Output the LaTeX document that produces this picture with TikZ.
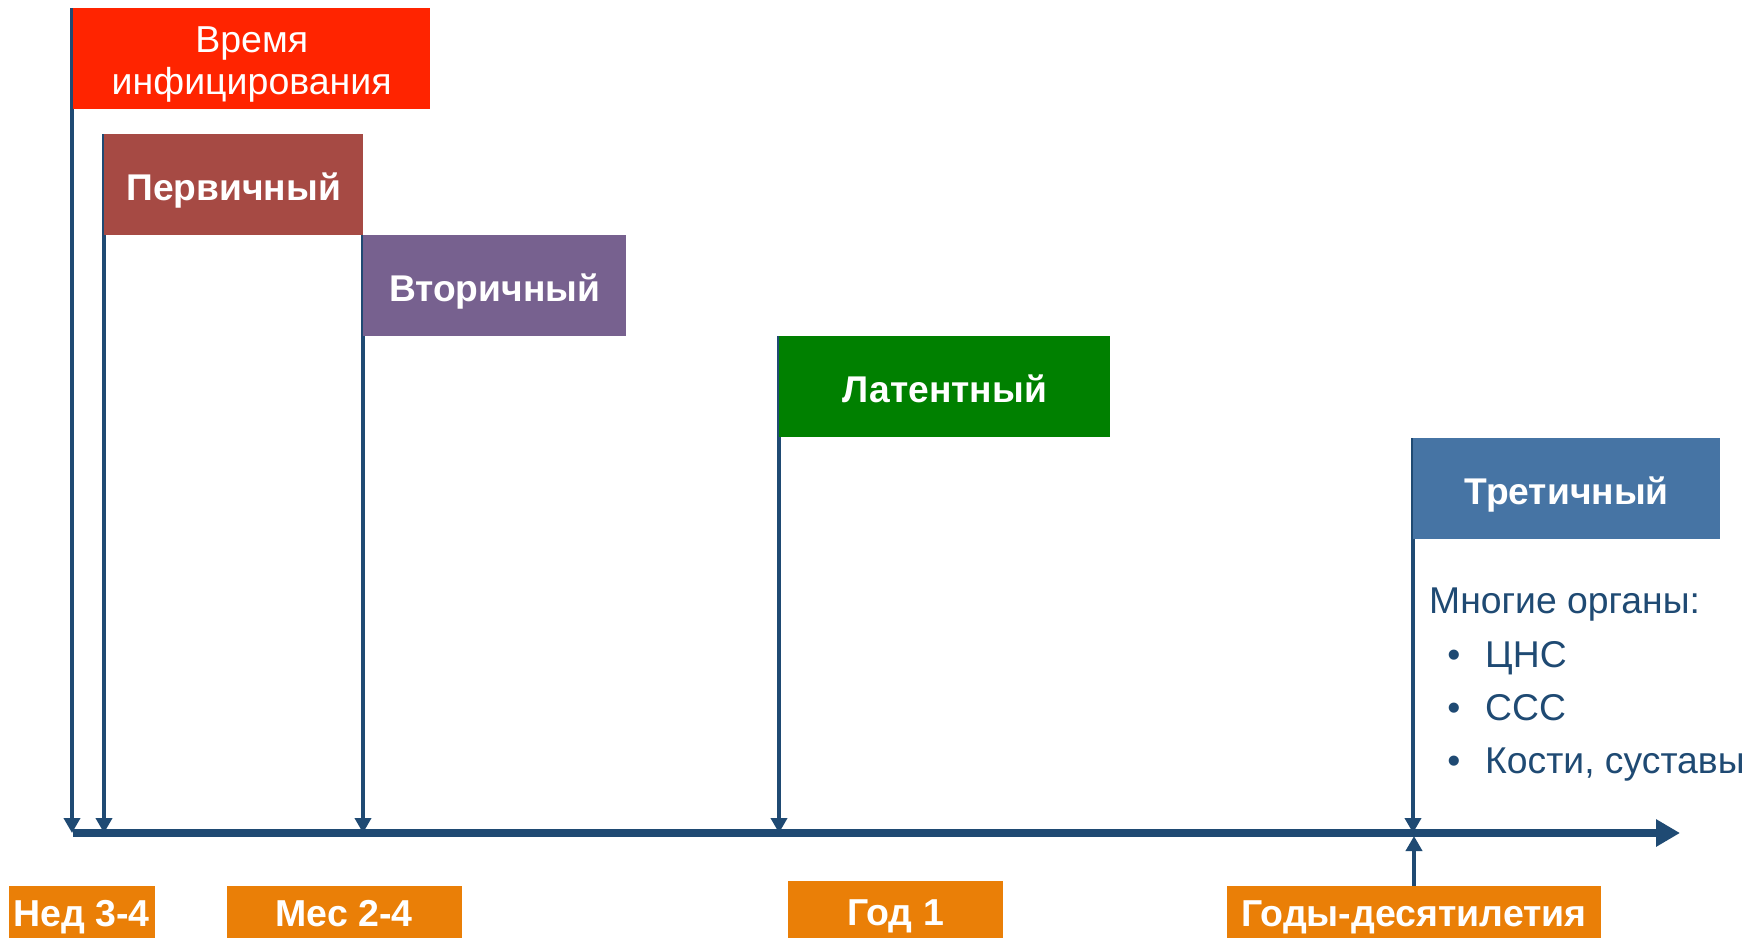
\documentclass[tikz,border=0pt]{standalone}
\usepackage{fontspec}
\setmainfont{Liberation Sans}
\usetikzlibrary{arrows.meta}
\definecolor{navy}{HTML}{1F4A73}
\definecolor{infred}{HTML}{FF2400}
\definecolor{primred}{HTML}{A64A44}
\definecolor{secpurple}{HTML}{77618F}
\definecolor{latgreen}{HTML}{008000}
\definecolor{tertblue}{HTML}{4674A4}
\definecolor{tickorange}{HTML}{EA7F07}
\begin{document}
\begin{tikzpicture}[x=1pt,y=-1pt,
  flagbox/.style={anchor=north west, inner sep=0pt, minimum height=101pt, text=white,
    font=\fontsize{37.2}{43}\selectfont\bfseries, text height=32.5pt, text depth=0pt},
  pole/.style={draw=navy, line width=4.8pt, -{Triangle[width=16pt,length=15pt]}},
  axisline/.style={draw=navy, line width=7.5pt, -{Triangle[width=26pt,length=24pt]}},
  tickbox/.style={anchor=north, inner sep=0pt, fill=tickorange, text=white,
    font=\fontsize{37.5}{43}\selectfont\bfseries, text height=27pt, text depth=0pt},
  bodytext/.style={inner sep=0pt, text=navy, font=\fontsize{37.3}{44}\selectfont}
]
\useasboundingbox (0,0) rectangle (1760,937);
\clip (0,0) rectangle (1760,937);
\fill[white] (0,0) rectangle (1760,937);

% axis
\coordinate (axL) at (73,833);
\coordinate (axR) at (1680,833);

% flag positions
\coordinate (pInf) at (72,8);
\coordinate (pPrim) at (104,134);
\coordinate (pSec) at (363,235);
\coordinate (pLat) at (779,336);
\coordinate (pTert) at (1413,438);

% poles
\draw[pole] (pInf) -- (pInf |- axL);
\draw[pole] (pPrim) -- (pPrim |- axL);
\draw[pole] (pSec) -- (pSec |- axL);
\draw[pole] (pLat) -- (pLat |- axL);
\draw[pole] (pTert) -- (pTert |- axL);

\draw[axisline] (axL) -- (axR);

% flag boxes
\node[flagbox, fill=infred, minimum width=357pt, font=\fontsize{37.5}{43}\selectfont,
  align=center, text height=, text depth=] (inf) at ([xshift=1pt]pInf)
  {\rule{0pt}{38pt}Время\\[-1pt]инфицирования};
\node[flagbox, fill=primred, minimum width=259pt] (prim) at (pPrim) {Первичный};
\node[flagbox, fill=secpurple, minimum width=263pt] (sec) at (pSec) {Вторичный};
\node[flagbox, fill=latgreen, minimum width=331pt] (lat) at (pLat) {Латентный};
\node[flagbox, fill=tertblue, minimum width=307pt] (tert) at (pTert) {Третичный};

% tertiary details
\node[bodytext, anchor=base west] (organs) at (1429,613) {Многие органы:};
\node[bodytext, anchor=base] (b1) at (1454,667) {•};
\node[bodytext, anchor=base] (b2) at (1454,720) {•};
\node[bodytext, anchor=base] (b3) at (1454,773) {•};
\node[bodytext, anchor=base west] (cns) at (1485,667) {ЦНС};
\node[bodytext, anchor=base west] (css) at (1485,720) {ССС};
\node[bodytext, anchor=base west] (bones) at (1485,773) {Кости, суставы};

% time labels
\node[tickbox, minimum width=146pt, minimum height=54pt] (ned) at (81.5,886) {Нед 3-4};
\node[tickbox, minimum width=235pt, minimum height=54pt] (mes) at (344,886) {Мес 2-4};
\node[tickbox, minimum width=215pt, minimum height=61pt] (god) at (895.5,881) {Год 1};
\node[tickbox, minimum width=374pt, minimum height=54pt] (gody) at (1414,886) {Годы-десятилетия};

\draw[pole] (gody.north) -- ([yshift=-3pt]gody.north |- axL);
\end{tikzpicture}
\end{document}
